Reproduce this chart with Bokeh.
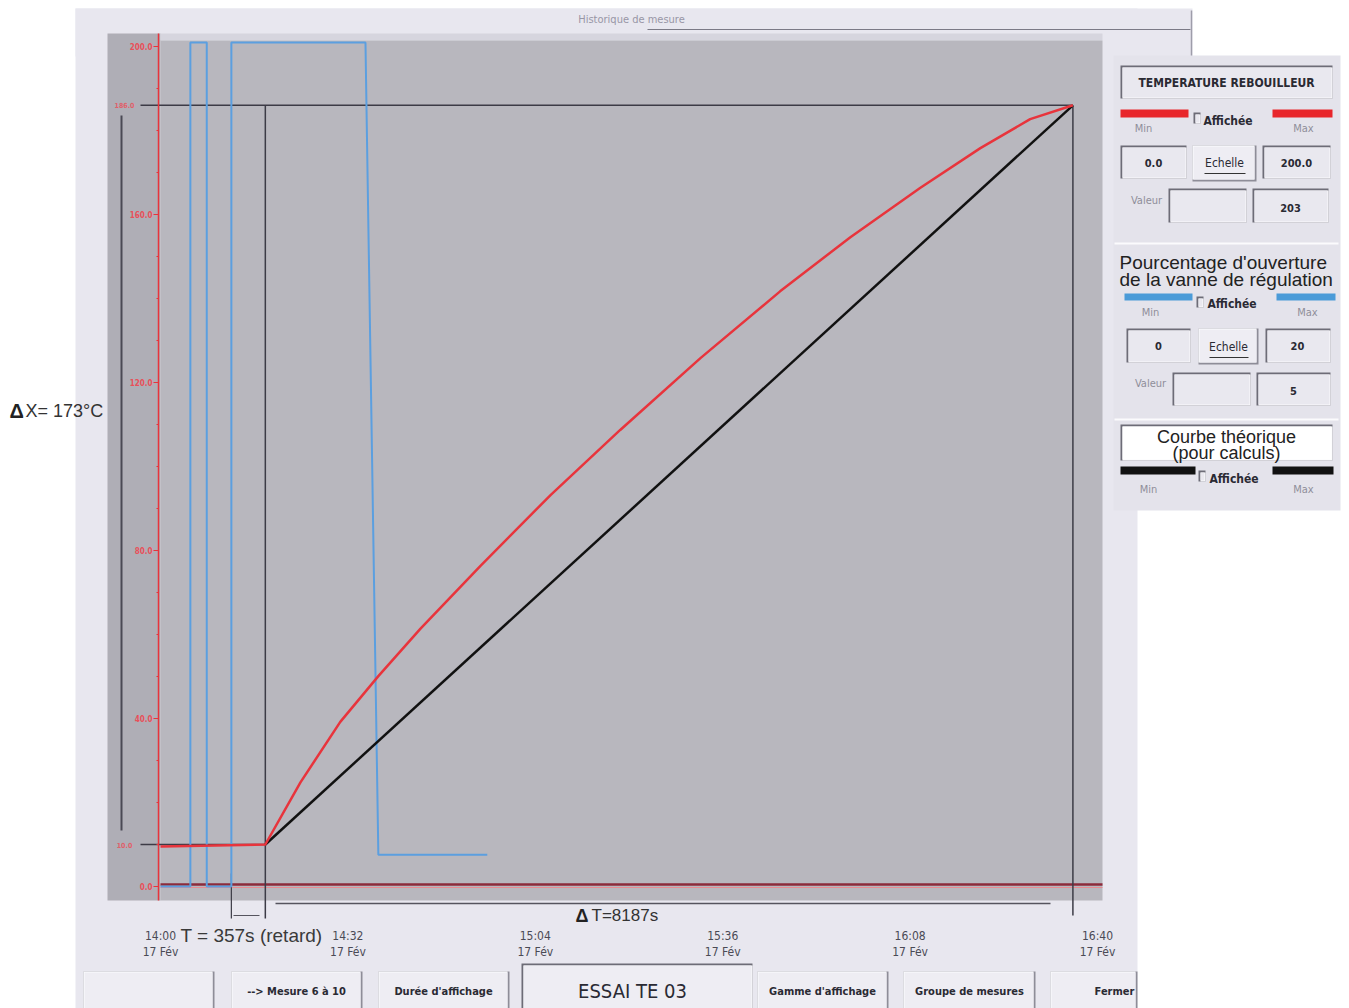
from bokeh.plotting import figure
from bokeh.models import Range1d, FixedTicker, BoxAnnotation, Label, Arrow, LinearAxis
from bokeh.embed import file_html
from bokeh.resources import INLINE

# ---------------- data (minutes after 14:00, deg C, % opening) ----------------
x_ticks = [0, 32, 64, 96, 128, 160]
x_tick_labels = ["14:00\n17 Fév", "14:32\n17 Fév", "15:04\n17 Fév",
                 "15:36\n17 Fév", "16:08\n17 Fév", "16:40\n17 Fév"]
y_ticks = [0, 40, 80, 120, 160, 200]
y_minor_ticks = [0, 10, 20, 30, 40, 50, 60, 70, 80, 90, 100, 110, 120, 130, 140,
                 150, 160, 170, 180, 190, 200]
y_tick_labels = ["0.0", "40.0", "80.0", "120.0", "160.0", "200.0"]

temp_time = [0.0, 17.9, 23.9, 30.7, 37.2, 44.4, 54.6, 66.6, 78.5, 92.2, 105.8,
             117.8, 129.7, 140.0, 148.5, 155.8]
temp_value = [9.5, 10.0, 24.8, 39.2, 50.1, 61.4, 76.3, 93.2, 108.7, 125.8, 141.7,
              154.6, 166.3, 175.8, 182.7, 186.0]

valve_time = [0.0, 5.1, 5.1, 7.9, 7.9, 12.1, 12.1, 35.0, 37.2, 55.8]
valve_value = [0.0, 0.0, 20.0, 20.0, 0.0, 0.0, 20.0, 20.0, 0.75, 0.75]

theory_time = [17.9, 155.8]
theory_value = [10.0, 186.0]

cursor_time = [12.1, 17.9, 155.8]
cursor_value = [10.0, 186.0]

# ---------------- geometry (whole canvas is the frame) ----------------
W, H = 1349, 1008
PX_PER_MIN = 937.0 / 160.0
PX_PER_DEG = 4.2
PX_PER_PCT = 42.2
X0 = -160.0 / PX_PER_MIN
X1 = X0 + W / PX_PER_MIN
Y1 = 886.0 / PX_PER_DEG
Y0 = Y1 - H / PX_PER_DEG
V1 = 886.0 / PX_PER_PCT
V0 = V1 - H / PX_PER_PCT

NARROW = "DejaVu Sans Condensed, sans-serif"
SANS = "Liberation Sans, Arial, sans-serif"


def dx(px):
    return X0 + px * (X1 - X0) / W


def dy(py):
    return Y1 - py * (Y1 - Y0) / H


p = figure(width=W, height=H, min_border=0,
           x_range=Range1d(X0, X1), y_range=Range1d(Y0, Y1),
           x_axis_type=None, y_axis_type=None,
           output_backend="svg", toolbar_location=None, title=None)
p.extra_y_ranges = {"valve": Range1d(V0, V1)}
p.border_fill_color = "white"
p.background_fill_color = "white"
p.outline_line_color = None
p.grid.visible = False


def box(x0, y0, x1, y1, fill, level="annotation"):
    p.add_layout(BoxAnnotation(left=dx(x0), right=dx(x1), top=dy(y0), bottom=dy(y1),
                               fill_color=fill, fill_alpha=1.0, line_color=None,
                               level=level))


def line_px(x0, y0, x1, y1, color, width=1.0, level="annotation"):
    p.add_layout(Arrow(x_start=dx(x0), y_start=dy(y0), x_end=dx(x1), y_end=dy(y1),
                       start=None, end=None, line_color=color, line_width=width,
                       level=level))


def txt(x, y, s, size=12, color="#2a2a33", font=NARROW, style="bold",
        align="center"):
    p.add_layout(Label(x=dx(x), y=dy(y), text=s, text_font=font,
                       text_font_size=f"{size}px", text_font_style=style,
                       text_color=color, text_align=align, text_baseline="middle"))


def sunken(x0, y0, x1, y1, fill="#e9e8ef"):
    box(x0, y0, x1, y1, "#6d6c77")
    box(x0 + 2, y0 + 2, x1, y1, "#fbfbfd")
    box(x0 + 2, y0 + 2, x1 - 1, y1 - 1, fill)


def raised(x0, y0, x1, y1, fill="#eeedf3"):
    box(x0, y0, x1, y1, "#8e8d98")
    box(x0, y0, x1 - 2, y1 - 2, "#fdfdff")
    box(x0 + 1, y0 + 1, x1 - 2, y1 - 2, fill)


# ---------------- window background ----------------
box(75, 8, 1137, 1008, "#e8e7ef", "underlay")
box(75, 8, 1192, 56, "#e8e7ef", "underlay")
line_px(647, 29, 1190, 29, "#7b7a86", 1.2, "underlay")
line_px(1191, 10, 1191, 58, "#9e9daa", 1.5, "underlay")
box(107, 33, 160, 900, "#afaeb6", "underlay")
box(160, 33, 1102, 40, "#d6d5de", "underlay")
box(160, 40, 1102, 900, "#b8b7be", "underlay")
line_px(160, 884, 1102, 884, "#8c2b3b", 2.5, "underlay")
line_px(160, 887, 1102, 887, "#e88a90", 1.0, "underlay")

# ---------------- cursors ----------------
CUR = "#3c3b46"
p.add_layout(Arrow(x_start=dx(140), y_start=cursor_value[1], x_end=cursor_time[2],
                   y_end=cursor_value[1], start=None, end=None, line_color=CUR,
                   line_width=1.5, level="underlay"))
p.add_layout(Arrow(x_start=dx(140), y_start=cursor_value[0], x_end=cursor_time[1],
                   y_end=cursor_value[0], start=None, end=None, line_color=CUR,
                   line_width=1.5, level="underlay"))
p.add_layout(Arrow(x_start=cursor_time[1], y_start=cursor_value[1], x_end=cursor_time[1],
                   y_end=dy(918), start=None, end=None, line_color=CUR,
                   line_width=1.5, level="underlay"))
p.add_layout(Arrow(x_start=cursor_time[2], y_start=cursor_value[1], x_end=cursor_time[2],
                   y_end=dy(915), start=None, end=None, line_color=CUR,
                   line_width=1.5, level="underlay"))
p.add_layout(Arrow(x_start=cursor_time[0], y_start=dy(873), x_end=cursor_time[0],
                   y_end=dy(918), start=None, end=None, line_color=CUR,
                   line_width=1.2, level="underlay"))
line_px(233, 915, 259, 915, "#55545e", 1.0, "underlay")
line_px(275, 903, 1050, 903, "#55545e", 1.5, "underlay")
line_px(121, 115, 121, 830, "#4a4954", 2.0, "underlay")
for v in cursor_value:
    p.add_layout(Label(x=dx(124), y=v, text=f"{v:.1f}", text_font=NARROW,
                       text_font_size="7px", text_font_style="bold",
                       text_color="#e0606a", text_align="center",
                       text_baseline="middle"))

# ---------------- axes (drawn at fixed positions inside the canvas) ----------------
xaxis = LinearAxis(fixed_location=dy(900), ticker=FixedTicker(ticks=x_ticks))
xaxis.major_label_overrides = dict(zip(x_ticks, x_tick_labels))
xaxis.axis_line_color = None
xaxis.major_tick_line_color = None
xaxis.minor_tick_line_color = None
xaxis.major_label_standoff = 22
xaxis.major_label_text_font = NARROW
xaxis.major_label_text_font_size = "12px"
xaxis.major_label_text_color = "#4a4a55"
p.add_layout(xaxis, "below")

yaxis = LinearAxis(fixed_location=dx(158), bounds=(dy(900), dy(33)),
                   ticker=FixedTicker(ticks=y_ticks, minor_ticks=y_minor_ticks))
yaxis.major_label_overrides = dict(zip(y_ticks, y_tick_labels))
yaxis.axis_line_color = "#e8343c"
yaxis.axis_line_width = 1.5
yaxis.major_tick_line_color = "#e8343c"
yaxis.major_tick_out = 5
yaxis.major_tick_in = 0
yaxis.minor_tick_line_color = "#e8343c"
yaxis.minor_tick_out = 2
yaxis.minor_tick_in = 0
yaxis.major_label_standoff = 1
yaxis.major_label_text_font = NARROW
yaxis.major_label_text_font_size = "8px"
yaxis.major_label_text_font_style = "bold"
yaxis.major_label_text_color = "#e8505a"
p.add_layout(yaxis, "left")

# ---------------- series ----------------
p.line(valve_time, valve_value, y_range_name="valve", line_color="#5b9fe0", line_width=2)
p.line(theory_time, theory_value, line_color="#111111", line_width=2.5)
p.line(temp_time, temp_value, line_color="#e8343c", line_width=2.5)

# ---------------- texts around the chart ----------------
txt(631, 19, "Historique de mesure", 11, "#9896a6", NARROW, "normal")
txt(9, 410, "Δ", 20, "#222222", SANS, "bold", "left")
txt(25, 410, "X= 173°C", 18, "#333333", SANS, "normal", "left")
txt(575, 915, "Δ", 18, "#222222", SANS, "bold", "left")
txt(591, 915, "T=8187s", 17, "#333333", SANS, "normal", "left")
txt(180, 935, "T = 357s (retard)", 19, "#3a3a3a", SANS, "normal", "left")

# ---------------- bottom buttons ----------------
raised(83, 971, 214, 1010)
raised(231, 971, 362, 1010)
txt(296, 991, "--> Mesure 6 à 10", 11)
raised(378, 971, 509, 1010)
txt(443, 991, "Durée d'affichage", 11)
sunken(521, 963, 752, 1010, "#eeedf3")
txt(632, 990, "ESSAI TE 03", 20, "#2a2a33", NARROW, "normal")
raised(757, 971, 888, 1010)
txt(822, 991, "Gamme d'affichage", 11)
raised(903, 971, 1035, 1010)
txt(969, 991, "Groupe de mesures", 11)
raised(1050, 971, 1137, 1010)
txt(1114, 991, "Fermer", 11)

# ---------------- right panel ----------------
box(1113, 55, 1340, 510, "#e4e3eb")
line_px(1114, 243, 1338, 243, "#fbfbfd", 2)
line_px(1114, 419, 1338, 419, "#fbfbfd", 2)
GREY = "#8f8e9a"

# panel 1 : temperature
sunken(1120, 65, 1332, 98)
txt(1226, 82, "TEMPERATURE REBOUILLEUR", 12)
box(1120, 109, 1188, 117, "#e8262b")
box(1272, 109, 1332, 117, "#e8262b")
sunken(1193, 112, 1200, 123)
txt(1203, 120, "Affichée", 12, align="left")
txt(1143, 128, "Min", 11, GREY, style="normal")
txt(1303, 128, "Max", 11, GREY, style="normal")
sunken(1120, 145, 1186, 178)
txt(1153, 162, "0.0", 11)
raised(1192, 145, 1256, 181)
txt(1224, 162, "Echelle", 12, style="normal")
line_px(1204, 173, 1245, 173, "#333333", 1)
sunken(1262, 145, 1330, 178)
txt(1296, 162, "200.0", 11)
txt(1146, 200, "Valeur", 11, GREY, style="normal")
sunken(1168, 188, 1246, 222)
sunken(1252, 188, 1328, 222)
txt(1290, 207, "203", 11)

# panel 2 : valve
txt(1119, 262, "Pourcentage d'ouverture", 19, "#222222", SANS, "normal", "left")
txt(1119, 279, "de la vanne de régulation", 19, "#222222", SANS, "normal", "left")
box(1124, 293, 1192, 300, "#4b9bd8")
box(1276, 293, 1335, 300, "#4b9bd8")
sunken(1196, 296, 1203, 307)
txt(1207, 303, "Affichée", 12, align="left")
txt(1150, 312, "Min", 11, GREY, style="normal")
txt(1307, 312, "Max", 11, GREY, style="normal")
sunken(1126, 328, 1190, 362)
txt(1158, 345, "0", 11)
raised(1198, 328, 1258, 364)
txt(1228, 346, "Echelle", 12, style="normal")
line_px(1209, 357, 1248, 357, "#333333", 1)
sunken(1265, 328, 1330, 362)
txt(1297, 345, "20", 11)
txt(1150, 383, "Valeur", 11, GREY, style="normal")
sunken(1172, 372, 1250, 405)
sunken(1256, 372, 1330, 405)
txt(1293, 390, "5", 11)

# panel 3 : theoretical curve
sunken(1120, 424, 1332, 460, "#ffffff")
txt(1226, 436, "Courbe théorique", 18, "#222222", SANS, "normal")
txt(1226, 452, "(pour calculs)", 18, "#222222", SANS, "normal")
box(1120, 466, 1195, 474, "#111111")
box(1272, 466, 1333, 474, "#111111")
sunken(1198, 470, 1205, 481)
txt(1209, 478, "Affichée", 12, align="left")
txt(1148, 489, "Min", 11, GREY, style="normal")
txt(1303, 489, "Max", 11, GREY, style="normal")

open("out.html", "w").write(file_html(p, INLINE))
